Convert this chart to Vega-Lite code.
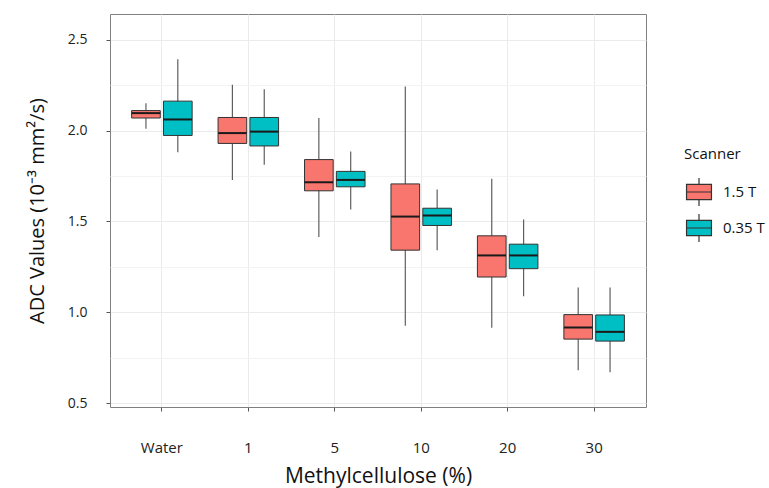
{
  "$schema": "https://vega.github.io/schema/vega-lite/v6.json",
  "width": 536,
  "height": 393,
  "autosize": {"type": "none"},
  "padding": {"left": 110, "top": 14, "right": 123, "bottom": 81},
  "background": "white",
  "config": {
    "font": "Open Sans",
    "view": {"stroke": "#808080", "strokeWidth": 1},
    "axis": {"domain": false, "labelColor": "#222222", "titleColor": "#111111", "tickColor": "#555555", "titleFontWeight": "normal"},
    "legend": {"titleFontWeight": "normal"}
  },
  "data": {
    "values": [
      {"group": "Water", "scanner": "1.5 T", "lower": 2.011, "q1": 2.070, "median": 2.097, "q3": 2.111, "upper": 2.152},
      {"group": "Water", "scanner": "0.35 T", "lower": 1.881, "q1": 1.974, "median": 2.062, "q3": 2.163, "upper": 2.394},
      {"group": "1", "scanner": "1.5 T", "lower": 1.729, "q1": 1.930, "median": 1.987, "q3": 2.073, "upper": 2.253},
      {"group": "1", "scanner": "0.35 T", "lower": 1.812, "q1": 1.916, "median": 1.995, "q3": 2.073, "upper": 2.229},
      {"group": "5", "scanner": "1.5 T", "lower": 1.414, "q1": 1.669, "median": 1.716, "q3": 1.841, "upper": 2.070},
      {"group": "5", "scanner": "0.35 T", "lower": 1.566, "q1": 1.691, "median": 1.729, "q3": 1.776, "upper": 1.885},
      {"group": "10", "scanner": "1.5 T", "lower": 0.925, "q1": 1.342, "median": 1.527, "q3": 1.707, "upper": 2.243},
      {"group": "10", "scanner": "0.35 T", "lower": 1.342, "q1": 1.478, "median": 1.533, "q3": 1.573, "upper": 1.676},
      {"group": "20", "scanner": "1.5 T", "lower": 0.914, "q1": 1.194, "median": 1.313, "q3": 1.421, "upper": 1.735},
      {"group": "20", "scanner": "0.35 T", "lower": 1.088, "q1": 1.240, "median": 1.313, "q3": 1.375, "upper": 1.511},
      {"group": "30", "scanner": "1.5 T", "lower": 0.681, "q1": 0.852, "median": 0.916, "q3": 0.987, "upper": 1.137},
      {"group": "30", "scanner": "0.35 T", "lower": 0.670, "q1": 0.841, "median": 0.892, "q3": 0.985, "upper": 1.137}
    ]
  },
  "encoding": {
    "x": {
      "field": "group", "type": "nominal",
      "sort": ["Water", "1", "5", "10", "20", "30"],
      "scale": {"paddingInner": 0.3, "paddingOuter": 0.25},
      "axis": {
        "title": "Methylcellulose (%)", "titleFontSize": 21, "titlePadding": 10,
        "labelAngle": 0, "labelFontSize": 15, "labelPadding": 29, "tickSize": 4,
        "bandPosition": 0.5, "grid": true, "gridColor": "#ebebeb", "gridWidth": 1
      }
    },
    "xOffset": {
      "field": "scanner", "type": "nominal",
      "sort": ["1.5 T", "0.35 T"],
      "scale": {"paddingInner": 0.1, "paddingOuter": 0}
    }
  },
  "layer": [
    {
      "mark": {"type": "rule", "color": "#5f5f5f", "strokeWidth": 1.2},
      "encoding": {
        "y": {
          "field": "lower", "type": "quantitative",
          "scale": {"domain": [0.478, 2.643], "nice": false, "zero": false},
          "axis": {
            "title": "ADC Values (10⁻³ mm²/s)", "titleFontSize": 20, "titlePadding": 20,
            "values": [0.5, 0.75, 1.0, 1.25, 1.5, 1.75, 2.0, 2.25, 2.5],
            "labelExpr": "datum.value % 0.5 == 0 ? format(datum.value, '.1f') : ''",
            "labelFontSize": 14, "labelPadding": 19, "tickSize": 4,
            "tickOpacity": {"condition": {"test": "datum.value % 0.5 == 0", "value": 1}, "value": 0},
            "grid": true,
            "gridColor": {"condition": {"test": "datum.value % 0.5 == 0", "value": "#ebebeb"}, "value": "#f3f3f3"}
          }
        },
        "y2": {"field": "upper"}
      }
    },
    {
      "mark": {"type": "bar", "stroke": "#333333", "strokeWidth": 1},
      "encoding": {
        "y": {"field": "q1", "type": "quantitative"},
        "y2": {"field": "q3"},
        "fill": {
          "field": "scanner", "type": "nominal",
          "scale": {"domain": ["1.5 T", "0.35 T"], "range": ["#F8766D", "#00BFC4"]},
          "legend": {
            "title": "Scanner", "orient": "none", "legendX": 574, "legendY": 133,
            "titleFontSize": 15, "titleColor": "#111111", "titlePadding": 15,
            "labelFontSize": 15, "labelColor": "#111111", "labelOffset": 9,
            "symbolType": "M-0.89,-0.54L0.89,-0.54L0.89,0.54L-0.89,0.54Z M-0.89,0L0.89,0 M0,-0.54L0,-1 M0,0.54L0,1",
            "symbolSize": 784, "symbolStrokeColor": "#333333", "symbolStrokeWidth": 1.2,
            "symbolOpacity": 1, "rowPadding": 2, "padding": 0
          }
        }
      }
    },
    {
      "mark": {"type": "tick", "color": "#1a1a1a", "thickness": 2, "size": 28.5, "opacity": 1},
      "encoding": {
        "y": {"field": "median", "type": "quantitative"}
      }
    }
  ]
}
